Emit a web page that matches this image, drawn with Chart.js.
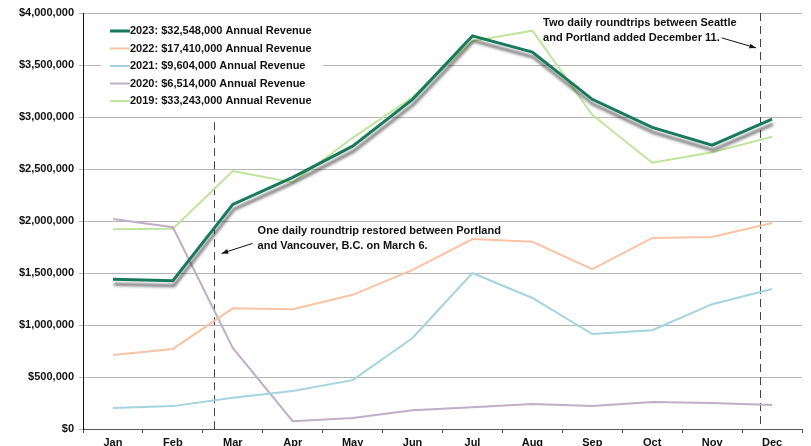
<!DOCTYPE html>
<html>
<head>
<meta charset="utf-8">
<script src="https://cdn.jsdelivr.net/npm/chart.js@4.4.1/dist/chart.umd.min.js"></script>
<style>
  html, body { margin: 0; padding: 0; background: #fff; }
  #wrap { width: 811px; height: 446px; position: relative; }
</style>
</head>
<body>
<div id="wrap"><canvas id="revenueChart" width="811" height="446"></canvas></div>
<script>
// months along the x axis
var months = ["Jan", "Feb", "Mar", "Apr", "May", "Jun", "Jul", "Aug", "Sep", "Oct", "Nov", "Dec"];

// monthly revenue per year
var rev2023 = [1440000, 1425000, 2160000, 2420000, 2720000, 3170000, 3780000, 3625000, 3170000, 2900000, 2730000, 2980000];
var rev2022 = [712000, 770000, 1160000, 1152000, 1290000, 1530000, 1827000, 1800000, 1538000, 1837000, 1846000, 1980000];
var rev2021 = [202000, 220000, 300000, 365000, 470000, 875000, 1500000, 1260000, 913000, 950000, 1200000, 1346000];
var rev2020 = [2020000, 1940000, 780000, 75000, 105000, 180000, 210000, 240000, 220000, 260000, 250000, 230000];
var rev2019 = [1920000, 1925000, 2480000, 2370000, 2800000, 3190000, 3730000, 3830000, 3020000, 2560000, 2660000, 2810000];

var seriesLabels = [
    "2023: $32,548,000 Annual Revenue",
    "2022: $17,410,000 Annual Revenue",
    "2021: $9,604,000 Annual Revenue",
    "2020: $6,514,000 Annual Revenue",
    "2019: $33,243,000 Annual Revenue"
];

// service change notes (month index position, text lines)
var notes = [
    { at: 1.68, lines: ["One daily roundtrip restored between Portland", "and Vancouver, B.C. on March 6."] },
    { at: 10.8, lines: ["Two daily roundtrips between Seattle", "and Portland added December 11."] }
];

var FAMILY = "'Liberation Sans', Arial, sans-serif";
var FONT = "bold 11px " + FAMILY;

function money(v) {
    return "$" + v.toLocaleString("en-US");
}

// drop shadow under the 2023 line
var shadowPlugin = {
    id: "shadow",
    beforeDatasetDraw: function (chart, args) {
        if (args.index !== 0) return;
        var ctx = chart.ctx;
        ctx.save();
        ctx.shadowColor = "rgba(0,0,0,0.55)";
        ctx.shadowBlur = 3;
        ctx.shadowOffsetX = 1;
        ctx.shadowOffsetY = 5;
    },
    afterDatasetDraw: function (chart, args) {
        if (args.index !== 0) return;
        chart.ctx.restore();
    }
};

// dashed markers, notes and the boxed legend
var notesPlugin = {
    id: "notes",
    beforeDatasetsDraw: function (chart) {
        var ctx = chart.ctx;
        var xs = chart.scales.x, ys = chart.scales.y;
        ctx.save();
        ctx.strokeStyle = "#444";
        ctx.lineWidth = 1;
        ctx.setLineDash([8, 5]);
        var x1 = Math.round(xs.getPixelForValue(notes[0].at)) + 0.5;
        ctx.beginPath();
        ctx.moveTo(x1, ys.getPixelForValue(2950000));
        ctx.lineTo(x1, ys.bottom);
        ctx.stroke();
        var x2 = Math.round(xs.getPixelForValue(notes[1].at)) + 0.5;
        ctx.beginPath();
        ctx.moveTo(x2, ys.top);
        ctx.lineTo(x2, ys.bottom);
        ctx.stroke();
        ctx.restore();
    },
    afterDraw: function (chart) {
        var ctx = chart.ctx;
        var xs = chart.scales.x, ys = chart.scales.y;
        ctx.save();
        ctx.font = FONT;
        ctx.fillStyle = "#111";
        ctx.textBaseline = "middle";
        ctx.textAlign = "left";

        // March note
        var x1 = xs.getPixelForValue(notes[0].at);
        var tx = x1 + 44, ty = ys.getPixelForValue(1900000);
        ctx.fillText(notes[0].lines[0], tx, ty);
        ctx.fillText(notes[0].lines[1], tx, ty + 15);
        arrow(ctx, tx - 5, ty + 12, x1 + 8, ty + 22);

        // December note
        var x2 = xs.getPixelForValue(notes[1].at);
        var tx2 = x2 - 217, ty2 = ys.getPixelForValue(3905000);
        ctx.fillText(notes[1].lines[0], tx2, ty2);
        ctx.fillText(notes[1].lines[1], tx2, ty2 + 15);
        var w = ctx.measureText(notes[1].lines[1]).width;
        arrow(ctx, tx2 + w + 2, ty2 + 15, x2 - 4, ty2 + 25);

        // legend box
        var lx = xs.left + 18, ly = ys.top + 7;
        ctx.fillStyle = "#fff";
        ctx.fillRect(lx, ly, 222, 90);
        chart.data.datasets.forEach(function (ds, i) {
            var y = ly + 11 + i * 17.5;
            ctx.strokeStyle = ds.borderColor;
            ctx.lineWidth = i === 0 ? 3 : 2;
            ctx.beginPath();
            ctx.moveTo(lx + 9, y);
            ctx.lineTo(lx + 29, y);
            ctx.stroke();
            ctx.fillStyle = "#111";
            ctx.fillText(ds.label, lx + 29, y);
        });
        ctx.restore();
    }
};

function arrow(ctx, fx, fy, tx, ty) {
    ctx.save();
    ctx.strokeStyle = "#111";
    ctx.fillStyle = "#111";
    ctx.lineWidth = 1;
    ctx.setLineDash([]);
    ctx.beginPath();
    ctx.moveTo(fx, fy);
    ctx.lineTo(tx, ty);
    ctx.stroke();
    var a = Math.atan2(ty - fy, tx - fx);
    ctx.beginPath();
    ctx.moveTo(tx, ty);
    ctx.lineTo(tx - 7 * Math.cos(a - 0.35), ty - 7 * Math.sin(a - 0.35));
    ctx.lineTo(tx - 7 * Math.cos(a + 0.35), ty - 7 * Math.sin(a + 0.35));
    ctx.closePath();
    ctx.fill();
    ctx.restore();
}

function makeSet(label, data, color, width) {
    return {
        label: label,
        data: data,
        borderColor: color,
        backgroundColor: color,
        borderWidth: width,
        pointRadius: 0,
        tension: 0,
        fill: false
    };
}

var ctx = document.getElementById("revenueChart");
var chart = new Chart(ctx, {
    type: 'line',
    data: {
        labels: months,
        datasets: [
            makeSet(seriesLabels[0], rev2023, '#177a5c', 3),
            makeSet(seriesLabels[1], rev2022, '#f9c3a6', 2),
            makeSet(seriesLabels[2], rev2021, '#a5d3df', 2),
            makeSet(seriesLabels[3], rev2020, '#bfaec9', 2),
            makeSet(seriesLabels[4], rev2019, '#bfe59c', 2)
        ]
    },
    options: {
        responsive: false,
        animation: false,
        layout: { padding: { top: 13, right: 9, left: 0, bottom: 0 } },
        plugins: {
            legend: { display: false },
            tooltip: { enabled: false }
        },
        scales: {
            x: {
                offset: true,
                grid: { offset: true, drawOnChartArea: false, drawTicks: true, tickLength: 4, color: '#555' },
                border: { color: '#555', width: 1 },
                ticks: { color: '#111', font: { family: FAMILY, size: 11, weight: 'bold' }, padding: 3, maxRotation: 0 },
                afterFit: function (s) { s.height = 17; }
            },
            y: {
                min: 0,
                max: 4000000,
                grid: { color: '#b5b5b5', tickLength: 4, lineWidth: 1 },
                border: { color: '#111', width: 1 },
                ticks: {
                    stepSize: 500000,
                    color: '#111',
                    padding: 5,
                    font: { family: FAMILY, size: 11, weight: 'bold' },
                    callback: function (v) { return money(v); }
                },
                afterFit: function (s) { s.width = 83; }
            }
        }
    },
    plugins: [shadowPlugin, notesPlugin]
});
</script>
</body>
</html>
